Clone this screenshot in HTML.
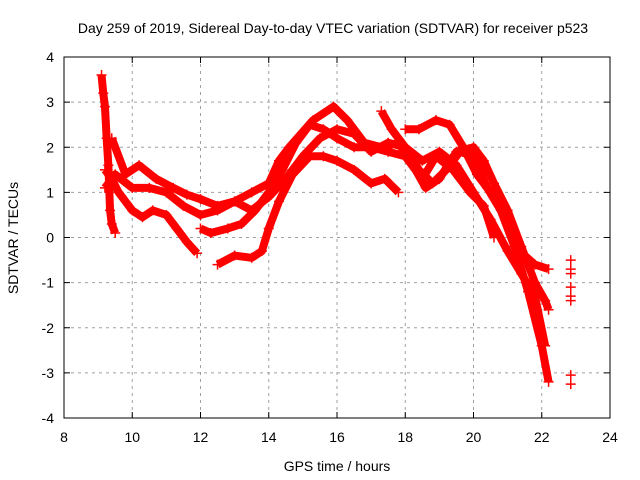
<!DOCTYPE html>
<html><head><meta charset="utf-8"><style>
body{margin:0;background:#fff}
svg{display:block;font-family:"Liberation Sans",sans-serif}
</style></head><body>
<svg id="chart" width="640" height="480">
<text x="333" y="33" text-anchor="middle" font-size="14">Day 259 of 2019, Sidereal Day-to-day VTEC variation (SDTVAR) for receiver p523</text>
<text x="337" y="471" text-anchor="middle" font-size="14">GPS time / hours</text>
<text transform="translate(18,238) rotate(-90)" text-anchor="middle" font-size="14">SDTVAR / TECUs</text>
<g id="grid"></g><g id="marks"></g>
<rect x="64" y="57" width="546" height="361" fill="none" stroke="#000"/>
</svg>
<script>
const xTicks=[8,10,12,14,16,18,20,22,24];
const yTicks=[-4,-3,-2,-1,0,1,2,3,4];
const track1=[[9.2,1.5],[9.4,1.3],[9.6,1.0],[10.0,0.6],[10.3,0.45],[10.6,0.6],[11.0,0.5],[11.3,0.2],[11.6,-0.1],[11.9,-0.35]];
const track2=[[9.4,2.2],[9.8,1.4],[10.2,1.6],[10.7,1.3],[11.2,1.1],[11.6,0.95],[12.0,0.85],[12.5,0.7],[13.0,0.8],[13.5,1.0],[14.0,1.2],[14.3,1.7],[14.6,2.0],[15.3,2.6],[15.9,2.9],[16.3,2.6],[16.8,2.1],[17.3,2.0],[17.8,2.1],[18.3,1.5],[18.6,1.1],[19.0,1.3],[19.5,1.9],[20.0,2.0],[20.3,1.7],[20.6,1.2],[21.0,0.6],[21.4,-0.2],[21.8,-1.0],[22.1,-1.4],[22.2,-1.6]];
const track3=[[9.2,1.1],[9.5,1.4],[10.0,1.1],[10.5,1.1],[11.0,1.0],[11.5,0.7],[12.0,0.5],[12.5,0.6],[13.0,0.8],[13.5,0.6],[14.0,0.9],[14.5,1.3],[15.0,1.8],[15.5,2.2],[16.0,2.4],[16.5,2.3],[17.0,1.9],[17.5,2.1],[18.0,2.0],[18.5,1.7],[19.0,1.9],[19.5,1.6],[20.0,1.0],[20.5,0.4],[21.0,-0.3],[21.4,-0.8],[21.8,-1.3],[22.1,-2.4]];
const track4=[[12.5,-0.6],[13.0,-0.4],[13.5,-0.45],[13.8,-0.3],[14.0,0.2],[14.3,0.8],[14.7,1.4],[15.2,1.8],[15.6,1.8],[16.0,1.7],[16.5,1.5],[17.0,1.2],[17.4,1.3],[17.8,1.0]];
const track5=[[12.0,0.2],[12.3,0.1],[12.8,0.2],[13.2,0.3],[13.6,0.6],[14.0,1.0],[14.4,1.5],[14.8,2.1],[15.2,2.5],[15.6,2.4],[16.0,2.2],[16.5,2.0],[17.0,2.0],[17.5,1.9],[18.0,1.8],[18.5,1.3],[18.9,1.8],[19.4,1.5],[19.9,1.0],[20.3,0.7],[20.6,0.0]];
const track6=[[17.3,2.8],[17.6,2.4],[18.0,2.0],[18.4,1.5],[18.8,1.2],[19.2,1.5],[19.6,1.9],[20.0,1.8],[20.4,1.1],[20.8,0.6],[21.2,-0.2],[21.6,-1.2],[22.0,-2.4],[22.2,-3.2]];
const track7=[[18.0,2.4],[18.4,2.4],[18.9,2.6],[19.3,2.5],[19.7,2.0],[20.1,1.4],[20.5,1.0],[20.9,0.5],[21.2,-0.2],[21.5,-0.4],[21.8,-0.6],[22.2,-0.7]];
const track8=[[9.1,3.6],[9.15,3.2],[9.2,2.9],[9.25,2.2],[9.3,1.6],[9.35,0.6],[9.4,0.3],[9.5,0.1]];
const track9=[[22.85,-0.5],[22.85,-0.7],[22.85,-0.8],[22.85,-1.1],[22.85,-1.3],[22.85,-1.4]];
const track10=[[22.85,-3.05],[22.85,-3.25]];
const tracks=[track1,track2,track3,track4,track5,track6,track7,track8,track9,track10];
const X=v=>64+(v-8)*546/16, Y=v=>418-(v+4)*361/8;
const NS="http://www.w3.org/2000/svg";
const grid=document.getElementById('grid'), marks=document.getElementById('marks');
function mk(tag,at,parent){const e=document.createElementNS(NS,tag);for(const k in at)e.setAttribute(k,at[k]);parent.appendChild(e);return e;}
xTicks.forEach(t=>{
 if(t>8&&t<24){const l=mk('line',{x1:X(t),x2:X(t),y1:57,y2:418,stroke:'#a0a0a0','stroke-dasharray':'3,4'},grid);
 
 }
 const tk=mk('path',{d:`M${X(t)},418v-6M${X(t)},57v6`,stroke:'#000'},grid);
 
 
 const tx=mk('text',{x:X(t),y:442,'text-anchor':'middle','font-size':14},grid);tx.textContent=t;
 
 
});
yTicks.forEach(t=>{
 if(t>-4&&t<4){const l=mk('line',{x1:64,x2:610,y1:Y(t),y2:Y(t),stroke:'#a0a0a0','stroke-dasharray':'3,4'},grid);
 
 }
 const tk=mk('path',{d:`M64,${Y(t)}h6M610,${Y(t)}h-6`,stroke:'#000'},grid);
 
 
 const tx=mk('text',{x:54,y:Y(t)+5,'text-anchor':'end','font-size':14},grid);tx.textContent=t;
 
 
});
tracks.forEach((tr,i)=>{
 const g=mk('g',{},marks);
 
 
 if(tr.length>2&&i<8) mk('polyline',{points:tr.map(p=>X(p[0])+','+Y(p[1])).join(' '),fill:'none',stroke:'#f00','stroke-width':8,'stroke-linejoin':'round'},g);
 tr.forEach(p=>{const m=mk('path',{d:`M${X(p[0])-5},${Y(p[1])}h10M${X(p[0])},${Y(p[1])-5}v10`,stroke:'#f00','stroke-width':1.5},g);
 
 });
});
</script>
</body></html>
